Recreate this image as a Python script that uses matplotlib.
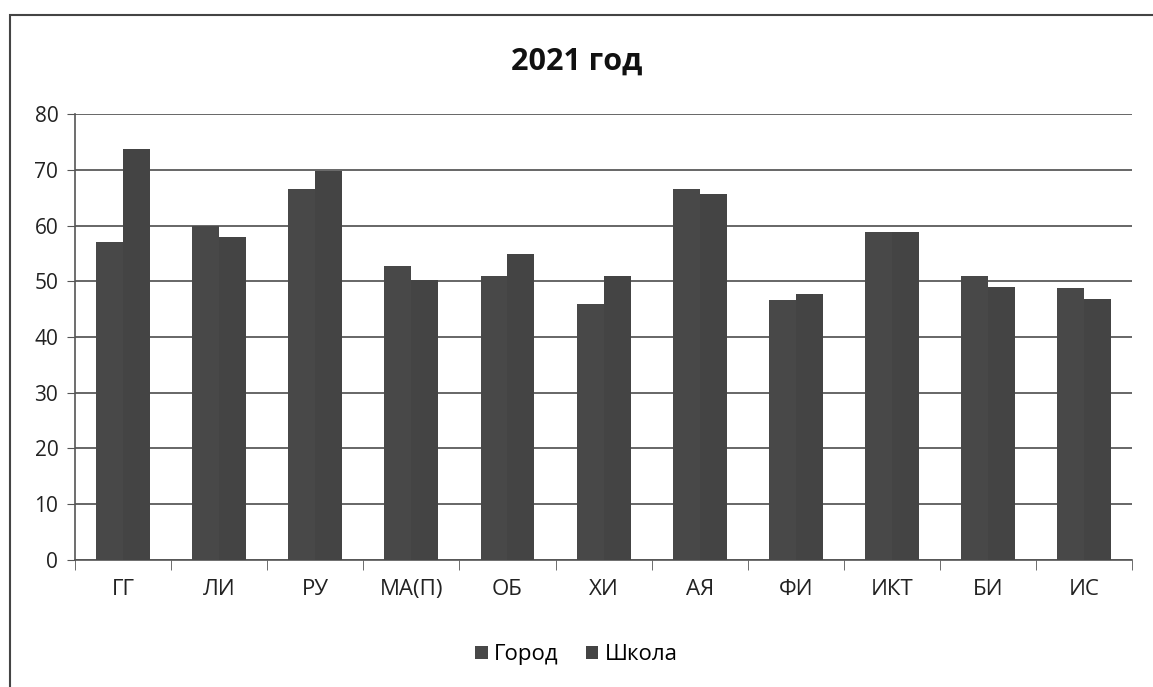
import matplotlib
matplotlib.use('Agg')
from matplotlib import pyplot as plt
from matplotlib.patches import Rectangle
import numpy as np

categories = ['ГГ', 'ЛИ', 'РУ', 'МА(П)', 'ОБ', 'ХИ', 'АЯ', 'ФИ', 'ИКТ', 'БИ', 'ИС']
gorod = [57.0, 59.9, 66.6, 52.7, 51.0, 46.0, 66.6, 46.6, 58.9, 51.0, 48.8]
shkola = [73.7, 57.9, 69.8, 50.3, 54.8, 51.0, 65.6, 47.8, 58.9, 48.9, 46.8]
yticks = [0, 10, 20, 30, 40, 50, 60, 70, 80]

plt.rcParams['font.family'] = ['Open Sans', 'DejaVu Sans']

fig = plt.figure(figsize=(11.53, 6.87), dpi=100)
ax = fig.add_axes([0.065, 0.185, 0.917, 0.649])

x = np.arange(len(categories))
w = 0.28
ax.bar(x - w/2, gorod, w, color='#484848', label='Город', zorder=3)
ax.bar(x + w/2, shkola, w, color='#444444', label='Школа', zorder=3)

ax.set_xlim(-0.5, len(categories) - 0.5)
ax.set_ylim(0, 80)
ax.set_yticks(yticks)
ax.yaxis.grid(True, color='#5a5a5a', linewidth=1.3, zorder=0)
ax.set_axisbelow(True)

for s in ['top', 'right']:
    ax.spines[s].set_visible(False)
ax.spines['left'].set_color('#555555')
ax.spines['bottom'].set_color('#555555')
ax.spines['left'].set_linewidth(1.2)
ax.spines['bottom'].set_linewidth(1.2)

ax.set_xticks(x)
ax.set_xticklabels(categories, fontsize=16, color='#222222')
ax.tick_params(axis='x', length=0, pad=14)
ax.set_xticks(np.arange(len(categories) + 1) - 0.5, minor=True)
ax.tick_params(axis='x', which='minor', length=7, color='#555555')
ax.tick_params(axis='y', labelsize=15, labelcolor='#222222', length=6, color='#555555', pad=6)

fig.text(0.5, 0.91, '2021 год', ha='center', va='center', fontsize=22, fontweight='bold', color='#111111')

fig.legend(loc='center', bbox_to_anchor=(0.5, 0.047), ncol=2, frameon=False,
           fontsize=16, handlelength=0.55, handleheight=0.55, handletextpad=0.3, columnspacing=1.2)

fig.patches.append(Rectangle((0.009, -0.01), 1.1, 0.988, transform=fig.transFigure,
                             fill=False, edgecolor='#444444', linewidth=1.5))

fig.savefig('out.png', dpi=100)
